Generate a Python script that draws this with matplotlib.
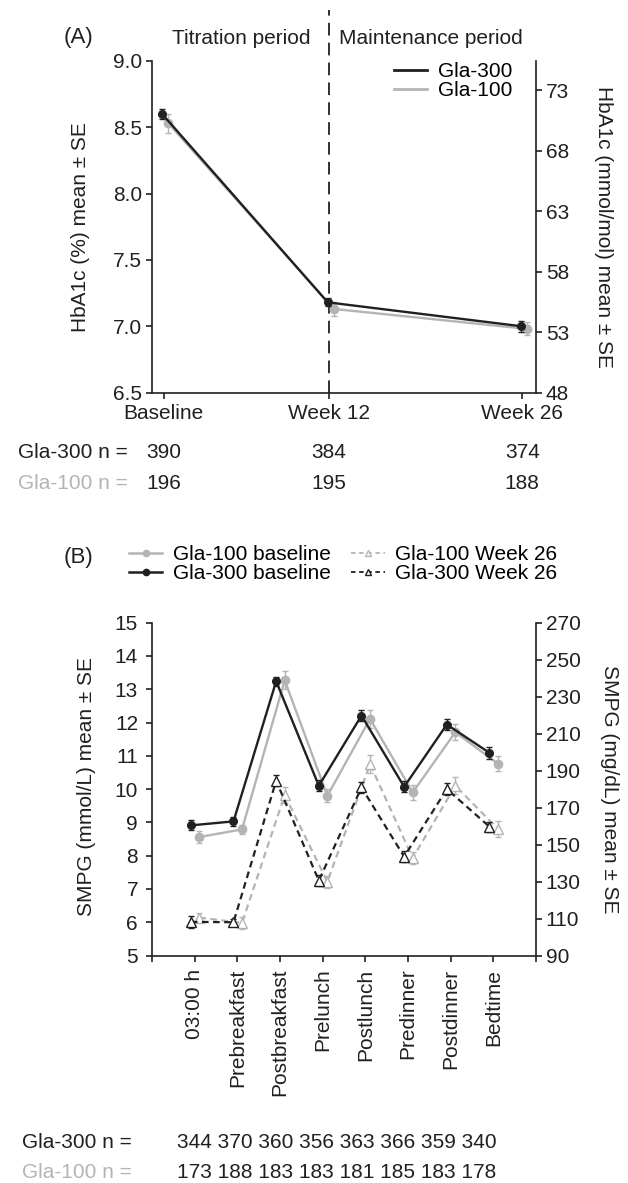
import matplotlib
matplotlib.use("Agg")
import matplotlib.pyplot as plt
import matplotlib.transforms as mtransforms
from matplotlib.lines import Line2D

plt.rcParams['font.family'] = ['Liberation Sans', 'DejaVu Sans']
FS = 15
BLACK = '#231f20'
GRAY = '#b4b4b4'

# ---------------- Panel A data ----------------
a_weeks = [0, 12, 26]
a_labels = ['Baseline', 'Week 12', 'Week 26']
a_gla300 = [8.60, 7.18, 7.00]
a_gla300_se = [0.04, 0.03, 0.04]
a_gla100 = [8.53, 7.13, 6.98]
a_gla100_se = [0.07, 0.05, 0.05]
a_n300 = [390, 384, 374]
a_n100 = [196, 195, 188]
a_left_ticks = [6.5, 7.0, 7.5, 8.0, 8.5, 9.0]
a_right_ticks = [48, 53, 58, 63, 68, 73]

# ---------------- Panel B data ----------------
b_times = ['03:00 h', 'Prebreakfast', 'Postbreakfast', 'Prelunch',
           'Postlunch', 'Predinner', 'Postdinner', 'Bedtime']
b_g300_base = [8.91, 9.03, 13.24, 10.10, 12.21, 10.07, 11.94, 11.09]
b_g300_base_se = [0.15, 0.13, 0.14, 0.17, 0.17, 0.16, 0.17, 0.19]
b_g100_base = [8.56, 8.79, 13.27, 9.80, 12.11, 9.90, 11.71, 10.76]
b_g100_base_se = [0.17, 0.14, 0.27, 0.20, 0.28, 0.23, 0.24, 0.23]
b_g300_w26 = [6.01, 6.00, 10.25, 7.25, 10.05, 7.97, 10.00, 8.87]
b_g300_w26_se = [0.18, 0.10, 0.17, 0.17, 0.17, 0.17, 0.17, 0.15]
b_g100_w26 = [6.14, 5.98, 9.82, 7.22, 10.75, 7.93, 10.10, 8.80]
b_g100_w26_se = [0.13, 0.18, 0.23, 0.18, 0.27, 0.18, 0.25, 0.23]
b_n300 = [344, 370, 360, 356, 363, 366, 359, 340]
b_n100 = [173, 188, 183, 183, 181, 185, 183, 178]
b_left_ticks = list(range(5, 16))
b_right_ticks = list(range(90, 271, 20))

W, H = 628, 1183
fig = plt.figure(figsize=(W / 100, H / 100), dpi=100)


def fy(py):
    return 1 - py / H


def style_axes(ax, pad_left):
    ax.spines['top'].set_visible(False)
    for s in ['left', 'bottom', 'right']:
        ax.spines[s].set_linewidth(1.2)
        ax.spines[s].set_color(BLACK)
    ax.tick_params(axis='both', direction='out', length=4.5, width=1.2,
                   colors=BLACK, labelsize=FS)
    ax.tick_params(axis='y', pad=pad_left)


# ================= Panel A =================
axA = fig.add_axes([152 / W, fy(392.5), 384 / W, (392.5 - 61) / H])
style_axes(axA, 2.5)
axA.spines['right'].set_visible(False)
axA.set_xlim(-0.84, 27.0)
axA.set_ylim(6.5, 9.0)
axA.set_yticks(a_left_ticks)
axA.set_yticklabels([f'{v:.1f}' for v in a_left_ticks])
axA.set_xticks(a_weeks)
axA.set_xticklabels(a_labels)
axA.tick_params(axis='x', pad=3.5)

xa300 = [w - 0.1 for w in a_weeks]
xa100 = [w + 0.35 for w in a_weeks]
axA.errorbar(xa100, a_gla100, yerr=a_gla100_se, color=GRAY, lw=1.7,
             marker='o', ms=6, capsize=2.4, elinewidth=1.0, capthick=1.0,
             zorder=3)
axA.errorbar(xa300, a_gla300, yerr=a_gla300_se, color=BLACK, lw=1.7,
             marker='o', ms=5.5, capsize=2.4, elinewidth=1.0, capthick=1.0,
             zorder=4)
axA.axvline(a_weeks[1], ymin=0, ymax=1.154, color=BLACK, lw=1.3,
            linestyle=(0, (7, 4)), clip_on=False, zorder=2)

axA2 = axA.twinx()
style_axes(axA2, 2.5)
axA2.spines['left'].set_visible(False)
axA2.spines['bottom'].set_visible(False)
axA2.set_ylim(48, 75.4)
axA2.set_yticks(a_right_ticks)

axA.legend(handles=[Line2D([], [], color=BLACK, lw=2.0),
                    Line2D([], [], color=GRAY, lw=2.0)],
           labels=['Gla-300', 'Gla-100'], loc='upper left',
           bbox_to_anchor=(394 / W, fy(62)),
           bbox_transform=fig.transFigure, frameon=False,
           fontsize=FS, borderpad=0, borderaxespad=0,
           handlelength=1.6, handletextpad=0.5, labelspacing=0.02)

fig.text(64 / W, fy(38), '(A)', fontsize=FS + 1, ha='left', va='center',
         color=BLACK)
fig.text(241 / W, fy(38), 'Titration period', fontsize=FS, ha='center',
         va='center', color=BLACK)
fig.text(431 / W, fy(39), 'Maintenance period', fontsize=FS, ha='center',
         va='center', color=BLACK)
fig.text(80 / W, fy(227), 'HbA1c (%) mean ± SE', fontsize=FS, rotation=90,
         ha='center', va='center', color=BLACK)
fig.text(604 / W, fy(227), 'HbA1c (mmol/mol) mean ± SE', fontsize=FS,
         rotation=270, ha='center', va='center', color=BLACK)

trA = mtransforms.blended_transform_factory(axA.transData, fig.transFigure)
fig.text(18 / W, fy(452), 'Gla-300 n =', fontsize=FS, ha='left',
         va='center', color=BLACK)
fig.text(18 / W, fy(483.5), 'Gla-100 n =', fontsize=FS, ha='left',
         va='center', color=GRAY)
for w, n3, n1 in zip(a_weeks, a_n300, a_n100):
    fig.text(w, fy(452), str(n3), transform=trA, fontsize=FS, ha='center',
             va='center', color=BLACK)
    fig.text(w, fy(483.5), str(n1), transform=trA, fontsize=FS,
             ha='center', va='center', color=BLACK)

# ================= Panel B =================
axB = fig.add_axes([152 / W, fy(955.5), 384 / W, (955.5 - 622.7) / H])
style_axes(axB, 5.5)
axB.spines['right'].set_visible(False)
xpos = list(range(len(b_times)))
axB.set_xlim(-1, len(b_times))
axB.set_ylim(5, 15)
axB.set_yticks(b_left_ticks)
axB.set_xticks([-1] + xpos + [len(b_times)])
axB.set_xticklabels([''] + b_times + [''], rotation=90, va='top',
                    ha='center')
axB.tick_params(axis='x', pad=5)

xb300 = [x - 0.09 for x in xpos]
xb100 = [x + 0.11 for x in xpos]
common = dict(capsize=2.4, elinewidth=1.0, capthick=1.0)
axB.errorbar(xb100, b_g100_w26, yerr=b_g100_w26_se, color=GRAY,
             lw=1.6, ls=(0, (3, 2)), marker='^', ms=7, mfc='white',
             mec=GRAY, mew=1.0, zorder=3, **common)
axB.errorbar(xb300, b_g300_w26, yerr=b_g300_w26_se, color=BLACK,
             lw=1.6, ls=(0, (3, 2)), marker='^', ms=7, mfc='white',
             mec=BLACK, mew=1.0, zorder=4, **common)
axB.errorbar(xb100, b_g100_base, yerr=b_g100_base_se, color=GRAY,
             lw=1.7, marker='o', ms=6, zorder=5, **common)
axB.errorbar(xb300, b_g300_base, yerr=b_g300_base_se, color=BLACK,
             lw=1.7, marker='o', ms=5.5, zorder=6, **common)

axB2 = axB.twinx()
style_axes(axB2, 2.5)
axB2.spines['left'].set_visible(False)
axB2.spines['bottom'].set_visible(False)
axB2.set_ylim(90, 270)
axB2.set_yticks(b_right_ticks)

lh = [Line2D([], [], color=GRAY, lw=1.8, marker='o', ms=4.5),
      Line2D([], [], color=BLACK, lw=1.8, marker='o', ms=4.5),
      Line2D([], [], color=GRAY, lw=1.3, ls=(0, (2.5, 2)), marker='^',
             ms=5, mfc='white', mec=GRAY),
      Line2D([], [], color=BLACK, lw=1.3, ls=(0, (2.5, 2)), marker='^',
             ms=5, mfc='white', mec=BLACK)]
ll = ['Gla-100 baseline', 'Gla-300 baseline', 'Gla-100 Week 26',
      'Gla-300 Week 26']
fig.legend(handles=lh, labels=ll, ncol=2, loc='upper left',
           bbox_to_anchor=(129 / W, fy(545)), bbox_transform=fig.transFigure,
           frameon=False, fontsize=FS, borderpad=0, borderaxespad=0,
           handlelength=1.6, handletextpad=0.5, labelspacing=0.02,
           columnspacing=1.0)

fig.text(64 / W, fy(557.7), '(B)', fontsize=FS + 1, ha='left',
         va='center', color=BLACK)
fig.text(86 / W, fy(787), 'SMPG (mmol/L) mean ± SE', fontsize=FS,
         rotation=90, ha='center', va='center', color=BLACK)
fig.text(610 / W, fy(789), 'SMPG (mg/dL) mean ± SE', fontsize=FS,
         rotation=270, ha='center', va='center', color=BLACK)

fig.text(22 / W, fy(1142), 'Gla-300 n =', fontsize=FS, ha='left',
         va='center', color=BLACK)
fig.text(22 / W, fy(1173), 'Gla-100 n =', fontsize=FS, ha='left',
         va='center', color=GRAY)
fig.text(177 / W, fy(1142), ' '.join(str(v) for v in b_n300), fontsize=FS,
         ha='left', va='center', color=BLACK)
fig.text(177 / W, fy(1173), ' '.join(str(v) for v in b_n100), fontsize=FS,
         ha='left', va='center', color=BLACK)

fig.savefig('out.png', dpi=100)
